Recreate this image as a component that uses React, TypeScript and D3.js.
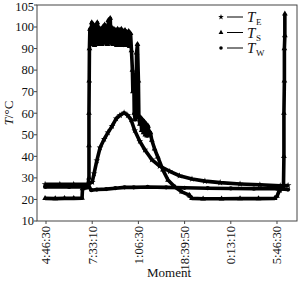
import * as d3 from "d3"

const W = 299
const H = 282

// tick labels on the x axis (equally spaced, one unit apart)
const xTickLabels = ["4:46:30", "7:33:10", "1:06:30", "18:39:50", "0:13:10", "5:46:30"]
const yTicks = [10, 20, 30, 40, 50, 60, 70, 80, 90, 100, 105]

// T_S : the curve that reaches ~100 °C
const tsX = [
  -0.02, 0.2, 0.4, 0.6, 0.78, 0.79, 0.9, 0.93, 0.93, 0.93, 0.935, 0.94, 0.95,
  0.97, 0.99, 1.01, 1.03, 1.05, 1.07, 1.09, 1.11, 1.13, 1.15, 1.17, 1.19, 1.21, 1.23, 1.25, 1.27,
  1.29, 1.31, 1.33, 1.35, 1.37, 1.39, 1.41, 1.43, 1.45, 1.47, 1.49, 1.51, 1.53, 1.55, 1.57, 1.59,
  1.61, 1.63, 1.65, 1.67, 1.69, 1.71, 1.73, 1.75, 1.77, 1.79, 1.81, 1.83, 1.85,
  1.87, 1.88, 1.9, 1.91, 1.93, 1.95, 1.96, 1.98, 2.0, 2.01, 2.03, 2.05, 2.07, 2.09, 2.11, 2.13,
  2.15, 2.17, 2.19, 2.21, 2.23, 2.26, 2.29, 2.35, 2.42, 2.53, 2.64, 2.79, 2.94, 3.1, 3.12, 3.16,
  3.4, 3.8, 4.2, 4.6, 4.95, 5.0, 5.05, 5.1, 5.14, 5.15, 5.15, 5.16, 5.16, 5.17, 5.17,
]
const tsY = [
  20.5, 20.4, 20.5, 20.5, 20.6, 25, 25.5, 30, 45, 60, 75, 90, 99,
  92, 101, 93, 100.5, 91.5, 100, 93, 101, 92, 99.5, 93, 99, 92, 100, 93, 100.5,
  92.5, 99.5, 92, 101.5, 93, 102, 92.5, 99.5, 92, 99, 93, 98.5, 91.5, 99, 92, 98.5,
  91.5, 99, 92, 98, 91.5, 98.5, 92, 97.5, 91.5, 98, 91, 97, 89,
  80, 70, 78, 60, 57, 65, 88, 92, 75, 58, 55, 58, 52, 57, 51, 56,
  50, 55, 49.5, 54, 50, 51, 47.5, 43.5, 39.7, 33.7, 29, 25.8, 23.5, 22, 21.5, 20.5,
  20.3, 20.3, 20.4, 20.4, 20.5, 21.5, 24, 25, 25.5, 40, 60, 75, 90, 96, 103,
]

// T_E : the slower bump peaking near 60 °C
const teX = [
  -0.02, 0.3, 0.6, 0.9, 1.0, 1.04, 1.1, 1.17, 1.26, 1.34, 1.43, 1.52, 1.6, 1.69, 1.77, 1.84,
  1.92, 2.03, 2.14, 2.29, 2.46, 2.68, 2.89, 3.16, 3.44, 3.77, 4.2, 4.63, 5.07, 5.24,
]
const teY = [
  27, 27, 27, 27, 28, 32, 38, 44, 48, 51, 54, 57.5, 59, 60.2, 59, 57,
  52, 47, 43, 38.5, 35.5, 33, 31, 29.5, 28.5, 27.8, 27.2, 26.8, 26.3, 26.5,
]

// T_W : the near-flat one around 25 °C
const twX = [-0.02, 0.5, 0.85, 0.93, 0.98, 1.1, 1.3, 1.5, 1.7, 1.9, 2.2, 2.6, 3.0, 3.5, 4.0, 4.5, 5.0, 5.24]
const twY = [25.8, 25.8, 25.8, 26, 24.3, 24.6, 24.8, 25.2, 25.6, 25.6, 25.8, 25.6, 25.4, 25.2, 25.1, 25, 25, 24.6]

const series = [
  { name: "E", xs: teX, ys: teY, symbol: d3.symbolStar },
  { name: "S", xs: tsX, ys: tsY, symbol: d3.symbolTriangle },
  { name: "W", xs: twX, ys: twY, symbol: d3.symbolCircle },
]

const font = "'Liberation Serif', 'Times New Roman', serif"

export default function App() {
  const left = 37
  const right = 297
  const top = 5
  const bottom = 221

  const x = d3.scaleLinear().domain([-0.195, 5.433]).range([left, right])
  const y = d3.scaleLinear().domain([10, 100, 105]).range([bottom, 27, top])

  const line = d3
    .line<[number, number]>()
    .x((d) => x(d[0]))
    .y((d) => y(d[1]))

  const axisColor = "#444"

  return (
    <svg width={W} height={H} style={{ position: "absolute", left: 0, top: 0, background: "#fff" }} fontFamily={font}>
      {/* frame */}
      <rect x={left} y={top} width={right - left} height={bottom - top} fill="none" stroke={axisColor} strokeWidth={1} />

      {/* y axis */}
      {yTicks.map((t) => (
        <g key={t} transform={`translate(${left},${y(t)})`}>
          <line x1={-3} x2={0} stroke={axisColor} />
          <text x={-3} y={t === 105 ? 1.5 : 0} dy="0.35em" textAnchor="end" fontSize={12.5} fill="#111">
            {t}
          </text>
        </g>
      ))}

      {/* x axis */}
      {xTickLabels.map((t, i) => (
        <g key={t} transform={`translate(${x(i)},${bottom})`}>
          <line y1={0} y2={3} stroke={axisColor} />
          <text transform="translate(0,5) rotate(-90)" dy="0.35em" textAnchor="end" fontSize={12.5} fill="#111">
            {t}
          </text>
        </g>
      ))}

      {/* axis titles */}
      <text transform={`translate(13,${(top + bottom) / 2}) rotate(-90)`} textAnchor="middle" fontSize={13} fill="#111">
        <tspan fontStyle="italic">T</tspan>/°C
      </text>
      <text x={169} y={277} textAnchor="middle" fontSize={13} fill="#111">
        Moment
      </text>

      {/* series */}
      {series.map((s) => {
        const pts = s.xs.map((v, i) => [v, s.ys[i]] as [number, number])
        const sym = d3.symbol().type(s.symbol).size(14)()
        return (
          <g key={s.name}>
            <path d={line(pts) ?? ""} fill="none" stroke="#000" strokeWidth={3.6} strokeLinejoin="round" />
            {pts.map((p, i) => (
              <path key={i} d={sym ?? ""} transform={`translate(${x(p[0])},${y(p[1])})`} fill="#000" />
            ))}
          </g>
        )
      })}

      {/* legend */}
      {series.map((s, i) => {
        const ry = 17 + i * 15.5
        return (
          <g key={s.name} transform={`translate(221,${ry})`}>
            <path d={d3.symbol().type(s.symbol).size(10)() ?? ""} fill="#000" />
            <line x1={6} x2={22} stroke="#000" strokeWidth={1} />
            <text x={26} y={5} fontSize={15} fontStyle="italic" fill="#111">
              T
            </text>
            <text x={35} y={8} fontSize={9} fill="#111">
              {s.name}
            </text>
          </g>
        )
      })}
    </svg>
  )
}
